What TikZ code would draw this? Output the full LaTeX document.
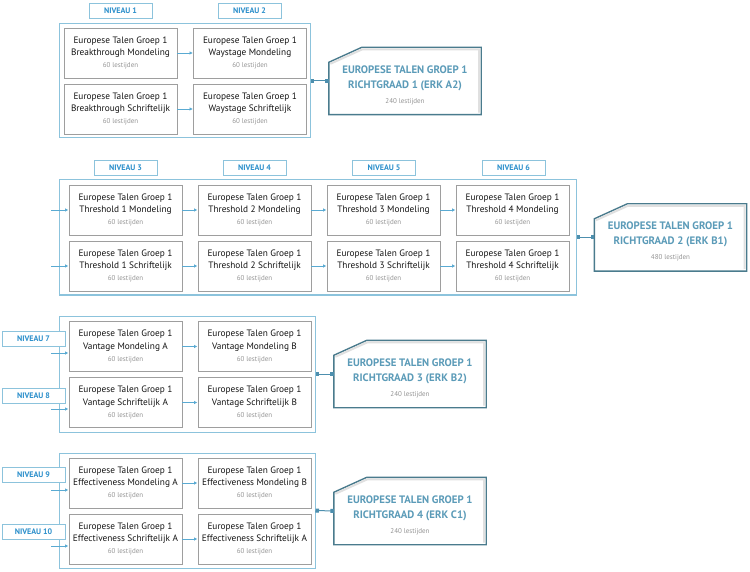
\documentclass[tikz,border=0pt]{standalone}
\usepackage{fontspec}
\setmainfont{PT Sans}
\usetikzlibrary{arrows.meta}
\newcommand{\lestijden}[1]{{\normalfont\color{lgrijs}\fontsize{7}{9}\selectfont #1 lestijden}}

\begin{document}
\begin{tikzpicture}[x=1pt,y=-1pt,
    module/.style={draw=grijs,line width=0.9pt,minimum width=113pt,minimum height=50pt,inner sep=0pt,align=center,text=donker,font=\fontsize{9.3}{12.3}\selectfont},
    niveau/.style={draw=lblauw,line width=0.9pt,fill=white,minimum width=63pt,minimum height=15pt,inner sep=0pt,text=nblauw,font=\bfseries\fontsize{8}{9}\selectfont},
    groep/.style={draw=lblauw,line width=1pt,inner sep=0pt},
    pijl/.style={draw=pblauw,line width=0.8pt,-{Latex[length=3.5pt,width=3.5pt]}},
    koppel/.style={draw=kblauw,line width=1pt,{Square[length=3.5pt,width=4pt]}-{Square[length=3.5pt,width=4pt]}},
    resultaat/.style={minimum width=152pt,minimum height=67pt,inner sep=0pt},
    resrand/.style={draw=rblauw,line width=1.4pt,fill=white},
    schaduw/.style={draw=black!12,line width=2pt},
    restekst/.style={align=center,text=tblauw,font=\bfseries\fontsize{10.8}{15}\selectfont}]
        %kleuren
        \colorlet{grijs}{black!38}
        \colorlet{lgrijs}{black!42}
        \colorlet{donker}{black!92}
        \definecolor{lblauw}{HTML}{8CC3DC}
        \definecolor{nblauw}{HTML}{2B8FCB}
        \definecolor{pblauw}{HTML}{5AAAD2}
        \definecolor{kblauw}{HTML}{4D8FAE}
        \definecolor{rblauw}{HTML}{4A7B8D}
        \definecolor{tblauw}{HTML}{5B9BB8}

        \useasboundingbox (0,0) rectangle (750,572);

        % Groepen
        \node[groep,minimum width=251pt,minimum height=114pt] (g1) at (184.5,81) {};
        \node[groep,minimum width=517pt,minimum height=115pt] (g2) at (317.5,237.5) {};
        \node[groep,minimum width=256pt,minimum height=116pt] (g3) at (187,374) {};
        \node[groep,minimum width=256pt,minimum height=115pt] (g4) at (187,510.5) {};

        % Niveaus
        \node[niveau] (n1) at (120.5,10.5) {NIVEAU 1};
        \node[niveau] (n2) at (249.5,10.5) {NIVEAU 2};
        \foreach \k/\x in {3/125.5,4/254.5,5/384,6/513.5}
            \node[niveau] (n\k) at (\x,168) {NIVEAU \k};
        \foreach \k/\y in {7/338.5,8/395.5,9/475,10/531.5}
            \node[niveau] (n\k) at (33.5,\y) {NIVEAU \k};

        % Modules richtgraad 1
        \foreach \k/\x/\naam in {1/120.5/Breakthrough,2/250/Waystage}{
            \node[module] (a1\k) at (\x,53) {Europese Talen Groep 1\\\naam\ Mondeling\\\lestijden{60}};
            \node[module] (a2\k) at (\x,109) {Europese Talen Groep 1\\\naam\ Schriftelijk\\\lestijden{60}};
        }
        \draw[pijl] (a11) -- (a12);
        \draw[pijl] (a21) -- (a22);

        % Modules richtgraad 2
        \foreach \k in {1,...,4}{
            \node[module] (b1\k) at ({125.5+129*(\k-1)},210) {Europese Talen Groep 1\\Threshold \k\ Mondeling\\\lestijden{60}};
            \node[module] (b2\k) at ({125.5+129*(\k-1)},266) {Europese Talen Groep 1\\Threshold \k\ Schriftelijk\\\lestijden{60}};
        }
        \foreach \k/\l in {1/2,2/3,3/4}{
            \draw[pijl] (b1\k) -- (b1\l);
            \draw[pijl] (b2\k) -- (b2\l);
        }
        \coordinate (in21) at (51,210);
        \coordinate (in22) at (51,266);
        \draw[pijl] (in21) -- (b11.west);
        \draw[pijl] (in22) -- (b21.west);

        % Modules richtgraad 3
        \foreach \k/\x/\v in {1/125.5/A,2/254.5/B}{
            \node[module] (c1\k) at (\x,346.5) {Europese Talen Groep 1\\Vantage Mondeling \v\\\lestijden{60}};
            \node[module] (c2\k) at (\x,402.5) {Europese Talen Groep 1\\Vantage Schriftelijk \v\\\lestijden{60}};
        }
        \draw[pijl] (c11) -- (c12);
        \draw[pijl] (c21) -- (c22);
        \coordinate (in31) at (51,353);
        \coordinate (in32) at (51,409);
        \draw[pijl] (in31) -- (in31 -| c11.west);
        \draw[pijl] (in32) -- (in32 -| c21.west);

        % Modules richtgraad 4
        \node[module] (d11) at (125.5,483) {Europese Talen Groep 1\\Effectiveness Mondeling A\\\lestijden{60}};
        \node[module] (d12) at (254.5,483) {Europese Talen Groep 1\\Effectiveness Mondeling B\\\lestijden{60}};
        \node[module] (d21) at (125.5,539) {Europese Talen Groep 1\\Effectiveness Schriftelijk A\\\lestijden{60}};
        \node[module] (d22) at (254.5,539) {Europese Talen Groep 1\\Effectiveness Schriftelijk A\\\lestijden{60}};
        \draw[pijl] (d11) -- (d12);
        \draw[pijl] (d21) -- (d22);
        \coordinate (in41) at (51,490);
        \coordinate (in42) at (51,546);
        \draw[pijl] (in41) -- (in41 -| d11.west);
        \draw[pijl] (in42) -- (in42 -| d21.west);

        % Richtgraden
        \foreach \r/\x/\y/\erk/\les in {1/405/81/A2/240,2/670.5/237.5/B1/480,3/410/374/B2/240,4/410/511/C1/240}{
            \node[resultaat] (r\r) at (\x,\y) {};
            \draw[resrand] ([yshift=-15pt]r\r.north west) -- ([xshift=33pt]r\r.north west) -- (r\r.north east) -- (r\r.south east) -- (r\r.south west) -- cycle;
            \draw[schaduw] ([shift={(1.5pt,-16.5pt)}]r\r.north west) -- ([shift={(33.5pt,-2pt)}]r\r.north west) -- ([shift={(-2pt,-2pt)}]r\r.north east) -- ([shift={(-2pt,2pt)}]r\r.south east);
            \node[restekst] (t\r) at ([yshift=-4pt]r\r.center) {EUROPESE TALEN GROEP 1\\RICHTGRAAD \r\ (ERK \erk)\\\lestijden{\les}};
            \draw[koppel] (g\r.east) -- (r\r.west);
        }
    \end{tikzpicture}
\end{document}
